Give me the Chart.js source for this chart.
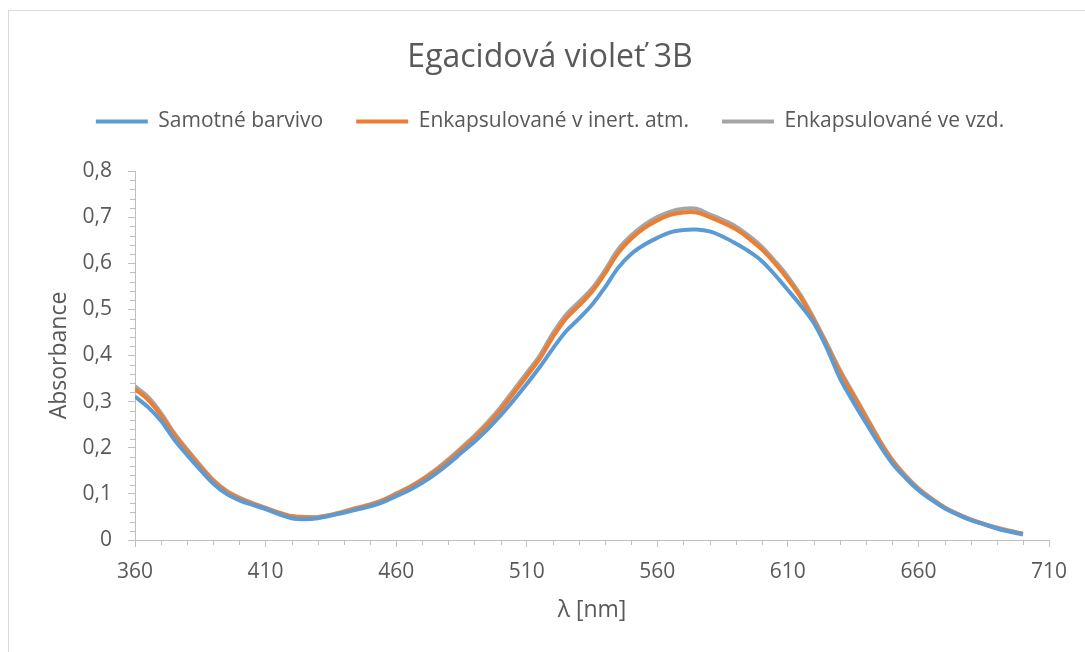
<!DOCTYPE html>
<html>
<head>
<meta charset="utf-8">
<script src="https://cdn.jsdelivr.net/npm/chart.js@4.4.0/dist/chart.umd.min.js"></script>
<style>
  html, body { margin: 0; padding: 0; background: #fff; overflow: hidden; width: 1085px; height: 652px; }
  #frame { position: absolute; left: 8px; top: 10px; width: 1200px; height: 800px;
           border-top: 1px solid #D9D9D9; border-left: 1px solid #D9D9D9; }
  #myChartLine { position: absolute; left: 0; top: 0; }
</style>
</head>
<body>
<div id="frame"></div>
<canvas id="myChartLine" width="1100" height="652"></canvas>
<script>
// wavelengths [nm]
let vlnoveDelky = [360, 365, 370, 375, 380, 385, 390, 395, 400, 405, 410, 415, 420, 425, 430, 435, 440, 445,
    450, 455, 460, 465, 470, 475, 480, 485, 490, 495, 500, 505, 510, 515, 520, 525, 530, 535,
    540, 545, 550, 555, 560, 565, 570, 575, 580, 585, 590, 595, 600, 605, 610, 615, 620, 625,
    630, 635, 640, 645, 650, 655, 660, 665, 670, 675, 680, 685, 690, 695, 700];

let samotneBarvivo = [0.311, 0.288, 0.258, 0.218, 0.184, 0.152, 0.122, 0.100, 0.086, 0.076, 0.067, 0.056,
    0.047, 0.045, 0.047, 0.053, 0.059, 0.066, 0.073, 0.082, 0.095, 0.108, 0.124, 0.143, 0.165, 0.189,
    0.213, 0.240, 0.270, 0.303, 0.338, 0.375, 0.415, 0.452, 0.480, 0.510, 0.548, 0.590, 0.620, 0.640,
    0.655, 0.667, 0.672, 0.673, 0.669, 0.658, 0.643, 0.626, 0.605, 0.575, 0.542, 0.508, 0.470, 0.415,
    0.350, 0.300, 0.253, 0.207, 0.166, 0.135, 0.108, 0.087, 0.069, 0.055, 0.043, 0.034, 0.025, 0.018, 0.012];

let inertAtm = [0.327, 0.304, 0.270, 0.228, 0.193, 0.159, 0.128, 0.105, 0.090, 0.079, 0.069, 0.059,
    0.051, 0.049, 0.049, 0.054, 0.061, 0.069, 0.076, 0.086, 0.099, 0.113, 0.130, 0.149, 0.171, 0.196,
    0.221, 0.250, 0.282, 0.318, 0.355, 0.393, 0.440, 0.480, 0.508, 0.538, 0.578, 0.622, 0.653, 0.676,
    0.693, 0.705, 0.710, 0.710, 0.700, 0.688, 0.674, 0.654, 0.630, 0.600, 0.565, 0.525, 0.476, 0.421,
    0.364, 0.314, 0.265, 0.215, 0.172, 0.138, 0.110, 0.089, 0.070, 0.056, 0.044, 0.035, 0.026, 0.019, 0.013];

let vzduch = [0.333, 0.310, 0.275, 0.232, 0.196, 0.162, 0.130, 0.107, 0.092, 0.080, 0.070, 0.060,
    0.052, 0.050, 0.050, 0.055, 0.062, 0.070, 0.077, 0.087, 0.101, 0.115, 0.132, 0.152, 0.175, 0.200,
    0.226, 0.255, 0.288, 0.325, 0.362, 0.400, 0.448, 0.488, 0.516, 0.545, 0.585, 0.630, 0.660, 0.683,
    0.700, 0.712, 0.718, 0.718, 0.706, 0.694, 0.680, 0.660, 0.636, 0.605, 0.571, 0.530, 0.480, 0.425,
    0.368, 0.318, 0.268, 0.218, 0.174, 0.140, 0.112, 0.090, 0.071, 0.057, 0.045, 0.035, 0.027, 0.020, 0.014];

let yTicks = [0, 0.1, 0.2, 0.3, 0.4, 0.5, 0.6, 0.7, 0.8];
let xTicks = [360, 410, 460, 510, 560, 610, 660, 710];

const sedaText = '#595959';
const sedaOsa = '#BFBFBF';
const pismo = "'Open Sans', sans-serif";

function body(xs, ys) {
    let out = [];
    for (let i in xs) {
        out.push({ x: xs[i], y: ys[i] });
    }
    return out;
}

function serie(label, values, color, width) {
    return {
        label: label,
        data: body(vlnoveDelky, values),
        borderColor: color,
        backgroundColor: color,
        borderWidth: width,
        pointRadius: 0,
        tension: 0.35,
        fill: false
    };
}

// empty layout boxes: below the legend and right of the plot
function mezeraBox(position, size) {
    return {
        position: position,
        weight: -10,
        fullSize: false,
        options: {},
        top: 0, left: 0, right: 0, bottom: 0, width: 0, height: 0,
        isHorizontal() { return position === 'top'; },
        update(maxWidth, maxHeight) {
            if (position === 'top') { this.width = maxWidth; this.height = size; }
            else { this.width = size; this.height = maxHeight; }
        },
        draw() {}
    };
}

const mezera = {
    id: 'mezera',
    beforeInit(chart) {
        Chart.layouts.addBox(chart, mezeraBox('top', 29));
        Chart.layouts.addBox(chart, mezeraBox('right', 43));
    }
};

// small ticks between labels, drawn from the scales
const vedlejsiZnacky = {
    id: 'vedlejsiZnacky',
    afterDraw(chart) {
        const ctx = chart.ctx;
        const sx = chart.scales.x;
        const sy = chart.scales.y;
        ctx.save();
        ctx.strokeStyle = sedaOsa;
        ctx.lineWidth = 1;
        ctx.beginPath();
        for (let v = 360; v <= 710; v += 10) {
            if ((v - 360) % 50 === 0) continue;
            const px = Math.round(sx.getPixelForValue(v)) + 0.5;
            ctx.moveTo(px, sy.bottom);
            ctx.lineTo(px, sy.bottom + 5);
        }
        for (let k = 0; k <= 40; k++) {
            if (k % 5 === 0) continue;
            const py = Math.round(sy.getPixelForValue(k * 0.02)) + 0.5;
            ctx.moveTo(sx.left - 5, py);
            ctx.lineTo(sx.left, py);
        }
        ctx.stroke();
        ctx.restore();
    }
};

let canvas = document.getElementById('myChartLine');
let myChartLine = new Chart(canvas, {
    type: 'line',
    data: {
        datasets: [
            serie('Samotné barvivo', samotneBarvivo, '#5B9BD5', 4),
            serie('Enkapsulované v inert. atm.', inertAtm, '#ED7D31', 4),
            serie('Enkapsulované ve vzd.', vzduch, '#A5A5A5', 4)
        ]
    },
    options: {
        responsive: false,
        animation: false,
        layout: { padding: { left: 8, right: 8, top: 0, bottom: 0 } },
        plugins: {
            title: {
                display: true,
                text: 'Egacidová violeť 3B',
                color: sedaText,
                font: { family: pismo, size: 32, weight: 'normal', lineHeight: 1 },
                padding: { top: 42, bottom: 4 }
            },
            legend: {
                display: true,
                labels: {
                    color: sedaText,
                    font: { family: pismo, size: 21 },
                    usePointStyle: true,
                    pointStyle: 'line',
                    pointStyleWidth: 52,
                    padding: 33
                }
            },
            tooltip: { enabled: false }
        },
        scales: {
            x: {
                type: 'linear',
                min: 360,
                max: 710,
                afterBuildTicks: function (scale) {
                    scale.ticks = xTicks.map(v => ({ value: v }));
                },
                afterFit: function (scale) {
                    scale.height = 112;
                },
                ticks: {
                    color: sedaText,
                    font: { family: pismo, size: 21 },
                    padding: 12,
                    maxRotation: 0,
                    callback: v => String(v)
                },
                grid: { display: true, drawOnChartArea: false, tickLength: 7, color: sedaOsa },
                border: { display: true, color: sedaOsa, width: 1 },
                title: {
                    display: true,
                    text: 'λ [nm]',
                    color: sedaText,
                    font: { family: pismo, size: 23 },
                    padding: { top: 0, bottom: 28 }
                }
            },
            y: {
                min: 0,
                max: 0.8,
                afterBuildTicks: function (scale) {
                    scale.ticks = yTicks.map(v => ({ value: v }));
                },
                afterFit: function (scale) {
                    scale.width = 127;
                },
                ticks: {
                    color: sedaText,
                    font: { family: pismo, size: 21 },
                    padding: 16,
                    callback: v => (v === 0 ? '0' : v.toFixed(1).replace('.', ','))
                },
                grid: { display: true, drawOnChartArea: false, tickLength: 7, color: sedaOsa },
                border: { display: true, color: sedaOsa, width: 1 },
                title: {
                    display: true,
                    text: 'Absorbance',
                    color: sedaText,
                    font: { family: pismo, size: 23 },
                    padding: { top: 38, bottom: 0 }
                }
            }
        }
    },
    plugins: [mezera, vedlejsiZnacky]
});
</script>
</body>
</html>
